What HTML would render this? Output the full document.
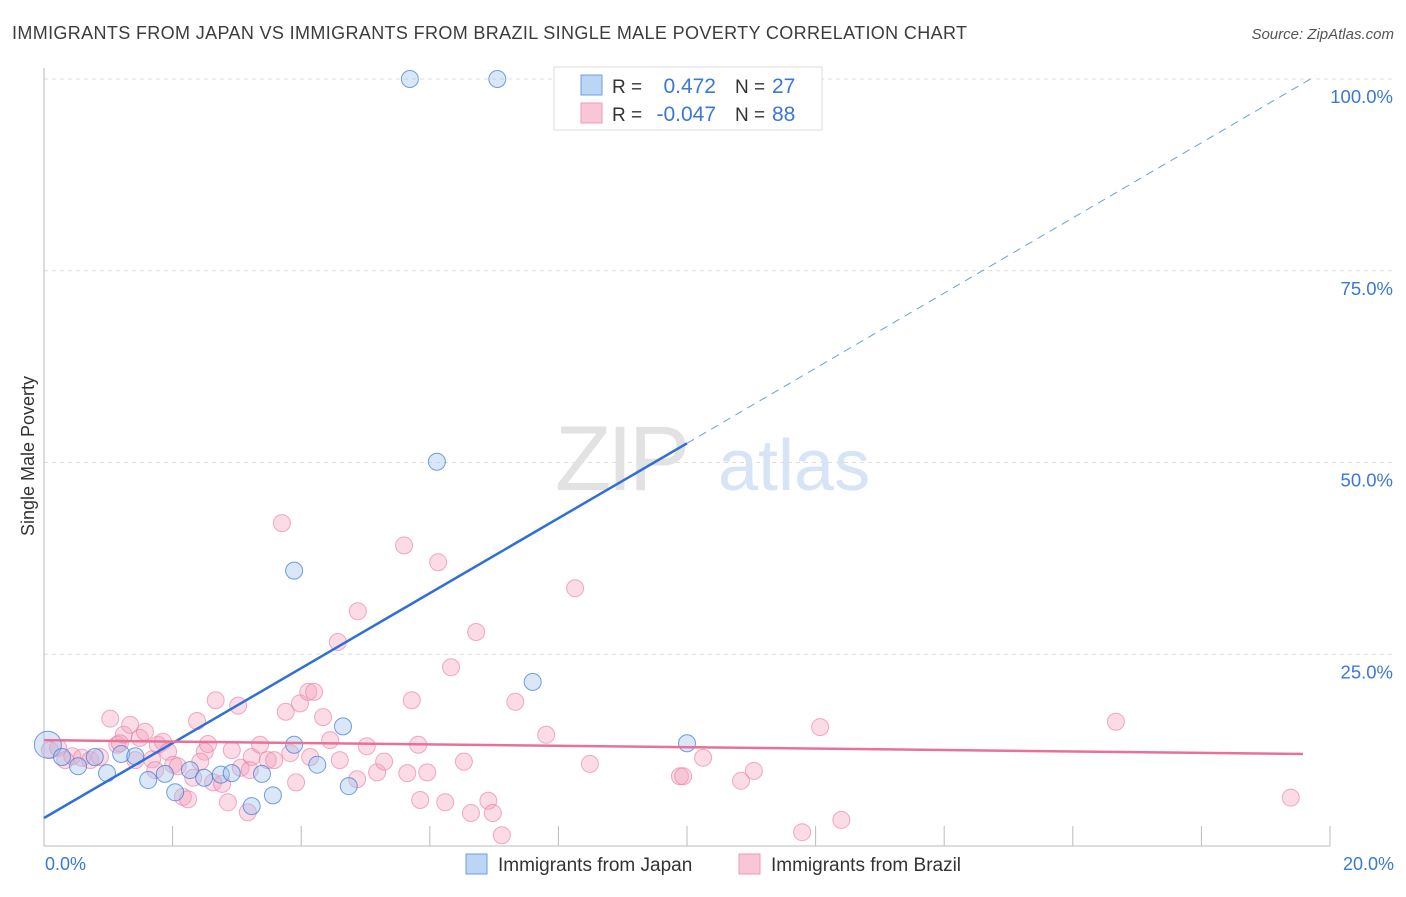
<!DOCTYPE html>
<html><head><meta charset="utf-8">
<style>
body{margin:0;background:#fff;font-family:"Liberation Sans",sans-serif;}
svg text{font-family:"Liberation Sans",sans-serif;}
</style></head>
<body>
<svg id="chart" width="1406" height="892" xmlns="http://www.w3.org/2000/svg">
<text x="12" y="39" font-size="18" fill="#3c3c3c" textLength="955" lengthAdjust="spacing">IMMIGRANTS FROM JAPAN VS IMMIGRANTS FROM BRAZIL SINGLE MALE POVERTY CORRELATION CHART</text>
<text x="1394" y="39" font-size="15" fill="#555" font-style="italic" text-anchor="end">Source: ZipAtlas.com</text>
<g id="grid"></g>
<text x="555" y="490" font-size="92" fill="#e2e2e2" font-family="Liberation Serif" letter-spacing="-4">ZIP</text>
<text x="718" y="490" font-size="72" fill="#d6e4f5">atlas</text>
<g id="points"></g>
<g id="lines"></g>
<text transform="translate(34,456) rotate(-90)" font-size="18" fill="#333" text-anchor="middle">Single Male Poverty</text>
<g>
<rect x="554" y="67" width="268" height="63" fill="#fff" stroke="#ddd"/>
<rect x="581" y="75" width="21" height="20" fill="#bcd5f5" stroke="#6a9fe0"/>
<rect x="581" y="103" width="21" height="20" fill="#f9c6d6" stroke="#ee9bb6"/>
<text x="612" y="93" font-size="19" fill="#333">R =</text>
<text x="716" y="93" font-size="21" fill="#3a78d8" text-anchor="end">0.472</text>
<text x="735" y="93" font-size="19" fill="#333">N =</text>
<text x="772" y="93" font-size="21" fill="#3a78d8">27</text>
<text x="612" y="121" font-size="19" fill="#333">R =</text>
<text x="716" y="121" font-size="21" fill="#3a78d8" text-anchor="end">-0.047</text>
<text x="735" y="121" font-size="19" fill="#333">N =</text>
<text x="772" y="121" font-size="21" fill="#3a78d8">88</text>
</g>
<g>
<rect x="466" y="854" width="21" height="20" fill="#bcd5f5" stroke="#6a9fe0"/>
<text x="498" y="871" font-size="19" fill="#333">Immigrants from Japan</text>
<rect x="739" y="854" width="21" height="20" fill="#f9c6d6" stroke="#ee9bb6"/>
<text x="771" y="871" font-size="19" fill="#333">Immigrants from Brazil</text>
</g>
</svg>
<script>
const xTicks=[0,2,4,6,8,10,12,14,16,18,20];
const yTicks=[25,50,75,100];
const yTickLabels=["25.0%","50.0%","75.0%","100.0%"];
const xEndLabels=["0.0%","20.0%"];
const japanX=[0.06,0.28,0.53,0.79,0.98,1.20,1.42,1.62,1.88,2.04,2.27,2.49,2.75,2.92,3.23,3.39,3.56,3.89,4.25,4.65,4.74,6.11,5.69,7.05,3.89,7.60,10.0];
const japanY=[13.2,11.6,10.4,11.6,9.5,12.0,11.7,8.6,9.4,7.0,9.9,8.9,9.3,9.5,5.2,9.4,6.6,13.2,10.6,15.6,7.8,50.1,100,100,35.9,21.4,13.4];
const brazilX=[0.09,0.22,0.33,0.44,0.59,0.72,0.87,1.03,1.14,1.24,1.34,1.49,1.57,1.68,1.77,1.85,1.93,2.01,2.08,2.16,2.24,2.32,2.38,2.50,2.55,2.63,2.67,2.77,2.86,2.92,3.02,3.06,3.17,3.23,3.36,3.48,3.58,3.70,3.76,3.83,3.92,3.98,4.11,4.14,4.20,4.34,4.57,4.60,4.87,4.88,5.02,5.18,5.29,5.60,5.65,5.72,5.82,5.96,6.13,6.24,6.33,6.53,6.64,6.72,6.91,6.98,7.12,7.33,7.81,8.26,8.49,9.89,9.94,10.25,10.84,11.04,11.79,12.07,12.40,16.67,19.39,1.18,1.42,1.73,2.43,3.20,4.45,5.85];
const brazilY=[12.5,12.8,11.2,11.7,11.5,11.2,11.6,16.6,13.2,14.5,15.8,14.1,14.9,11.3,13.2,13.6,12.3,10.6,10.4,6.4,6.1,8.9,16.3,12.3,13.3,8.3,19.0,8.1,5.7,12.5,18.3,10.2,4.4,11.6,13.2,11.2,11.2,42.1,17.5,12.1,8.3,18.6,20.1,11.6,20.1,16.8,26.6,11.2,8.7,30.6,13.0,9.6,11.0,39.2,9.5,19.0,13.2,9.6,37.0,5.7,23.3,11.0,4.3,27.9,5.9,4.3,1.4,18.8,14.5,33.6,10.7,9.1,9.1,11.5,8.5,9.8,1.8,15.5,3.4,16.2,6.3,13.4,11.2,9.9,11.0,9.9,13.8,6.0];
const japanTrend=[[0,3.65],[10,52.5],[19.78,100.4]];
const brazilTrend=[[0,13.8],[19.58,12.0]];
const NS="http://www.w3.org/2000/svg";
const X0=44,X1=1330,Y0=846,Y100=79;
function sx(v){return X0+(X1-X0)*v/20;}
function sy(v){return Y0-(Y0-Y100)*v/100;}
function mk(t,a,p){const e=document.createElementNS(NS,t);for(const k in a)e.setAttribute(k,a[k]);p.appendChild(e);return e;}
const grid=document.getElementById('grid');
yTicks.forEach((t,i)=>{
  const l=mk('line',{x1:X0,x2:1394,y1:sy(t),y2:sy(t),stroke:'#ddd','stroke-dasharray':'4,4'},grid);
  
  
  const tx=mk('text',{x:1393,y:sy(t)+24,'font-size':18.5,fill:'#3a78d8','text-anchor':'end'},grid);
  tx.textContent=yTickLabels[i];
  
  
});
const ax=mk('line',{x1:X0,x2:X0,y1:68,y2:Y0,stroke:'#bbb'},grid);


const bx=mk('line',{x1:X0,x2:X1,y1:Y0,y2:Y0,stroke:'#bbb'},grid);


xTicks.slice(1).forEach(t=>{
  const l=mk('line',{x1:sx(t),x2:sx(t),y1:826,y2:Y0,stroke:'#bbb'},grid);
  
  
});
[[0,'start',45],[20,'end',1394]].forEach((d,i)=>{
  const tx=mk('text',{x:d[2],y:870,'font-size':18,fill:'#3a78d8','text-anchor':d[1]},grid);
  tx.textContent=xEndLabels[i];
  
  
});
const pts=document.getElementById('points');
brazilX.forEach((v,i)=>{
  const c=mk('circle',{cx:sx(v),cy:sy(brazilY[i]),r:8.5,fill:'rgba(244,160,188,0.38)',stroke:'rgba(232,120,160,0.6)','stroke-width':1},pts);
  
  
});
japanX.forEach((v,i)=>{
  const c=mk('circle',{cx:sx(v),cy:sy(japanY[i]),r:i===0?13.5:8.5,fill:'rgba(160,196,240,0.4)',stroke:'rgba(60,120,210,0.7)','stroke-width':1},pts);
  
  
});
const ln=document.getElementById('lines');
const j1=mk('line',{x1:sx(japanTrend[0][0]),y1:sy(japanTrend[0][1]),x2:sx(japanTrend[1][0]),y2:sy(japanTrend[1][1]),stroke:'#2f6fd6','stroke-width':2.5},ln);


const j2=mk('line',{x1:sx(japanTrend[1][0]),y1:sy(japanTrend[1][1]),x2:sx(japanTrend[2][0]),y2:sy(japanTrend[2][1]),stroke:'#6a9fe0','stroke-width':1,'stroke-dasharray':'8,6'},ln);


const b1=mk('line',{x1:sx(brazilTrend[0][0]),y1:sy(brazilTrend[0][1]),x2:sx(brazilTrend[1][0]),y2:sy(brazilTrend[1][1]),stroke:'#e8719a','stroke-width':2.5},ln);


</script>
</body></html>
